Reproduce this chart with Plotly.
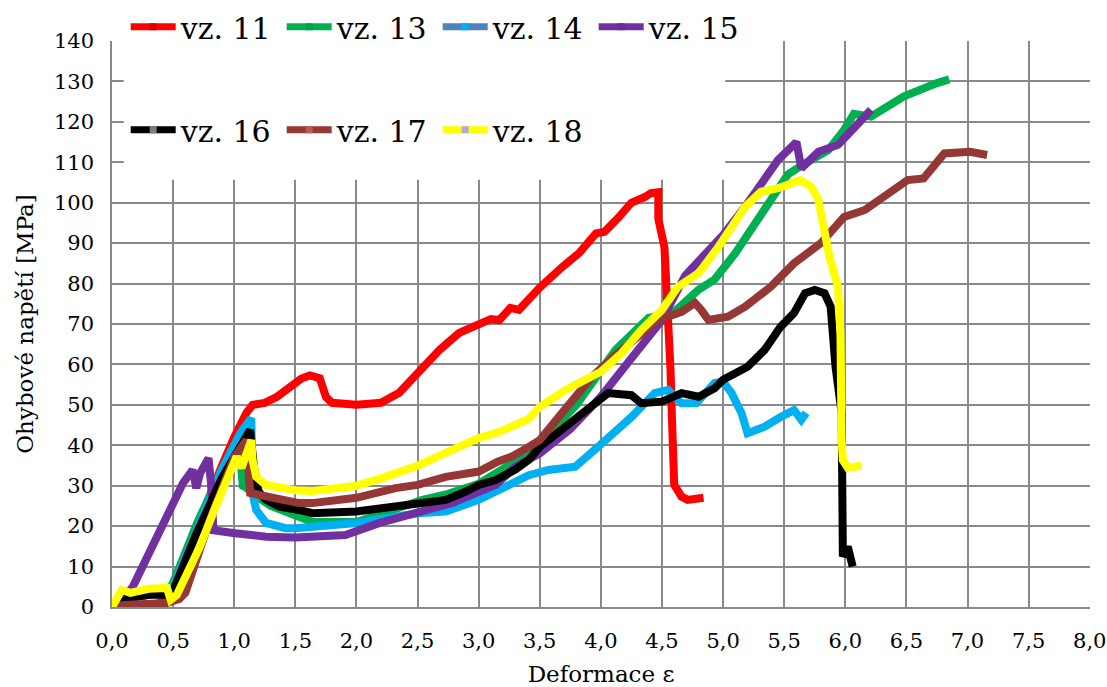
import plotly.graph_objects as go

# Flexural stress vs. deformation for specimens vz. 11 - vz. 18
x_11 = [0, 0.2, 0.35, 0.45, 0.5, 0.6, 0.7, 0.8, 0.9, 1.0, 1.05, 1.1, 1.15, 1.25, 1.35, 1.45, 1.55,
        1.62, 1.7, 1.75, 1.8, 2.0, 2.2, 2.35, 2.5, 2.68, 2.84, 3.0, 3.1, 3.17, 3.26, 3.33, 3.5,
        3.68, 3.82, 3.96, 4.03, 4.14, 4.25, 4.36, 4.41, 4.47, 4.47, 4.52, 4.55, 4.57, 4.58, 4.59,
        4.6, 4.66, 4.71, 4.84]
y_11 = [0, 0.2, 0.5, 2, 6, 13, 20, 28, 35, 42, 45.5, 48, 50, 50.5, 52, 54.5, 56.5,
        57.3, 56.6, 52, 50.5, 50, 50.5, 53, 58, 63.6, 67.8, 69.7, 71.2, 71, 74, 73.5, 79,
        84, 87.5, 92.4, 92.8, 96.2, 100, 101.4, 102.4, 102.6, 96, 89, 75, 58.6, 48, 31.4,
        30.2, 27.3, 26.5, 27]

x_13 = [0, 0.1, 0.3, 0.45, 0.5, 0.7, 0.9, 1.0, 1.04, 1.07, 1.1, 1.15, 1.3, 1.45, 1.64, 2.0, 2.3,
        2.54, 2.75, 3.0, 3.3, 3.5, 3.8, 4.12, 4.39, 4.6, 4.8, 4.93, 5.1, 5.26, 5.42, 5.53, 5.67,
        5.86, 5.99, 6.07, 6.21, 6.48, 6.75, 6.85]
y_13 = [0, 2, 3, 3.5, 6, 21, 34, 40, 41, 30, 29.5, 28, 25, 23.2, 21, 21, 24,
        26.5, 28, 30.5, 36, 40.5, 50, 63.6, 71.5, 73, 78.5, 81, 87.5, 94.5, 101.5, 107, 109.7,
        113, 118, 122, 121.3, 126.3, 129.6, 130.5]

x_14 = [0, 0.1, 0.3, 0.45, 0.5, 0.7, 0.9, 1.05, 1.14, 1.15, 1.18, 1.26, 1.42, 1.5, 2.0, 2.5,
        2.73, 3.0, 3.27, 3.41, 3.57, 3.79, 3.98, 4.25, 4.44, 4.55, 4.66, 4.78, 4.93, 5.0, 5.07,
        5.15, 5.2, 5.34, 5.47, 5.58, 5.64, 5.68]
y_14 = [0, 2, 3, 3.5, 5, 20, 34, 43, 46.7, 28, 24, 20.8, 19.5, 19.5, 20.8, 23.2,
        23.6, 26.5, 30.2, 32.6, 33.9, 34.7, 39.7, 47, 52.9, 53.7, 50.4, 50.4, 55.4, 55.7, 52.9,
        48, 43, 44.6, 47, 48.7, 46.3, 48]

x_15 = [0, 0.05, 0.17, 0.3, 0.45, 0.58, 0.66, 0.69, 0.72, 0.79, 0.81, 0.83, 0.99, 1.26, 1.5,
        1.7, 1.91, 2.19, 2.5, 2.78, 3.0, 3.14, 3.3, 3.5, 3.75, 4.0, 4.25, 4.5, 4.69, 4.85, 5.0,
        5.18, 5.45, 5.6, 5.64, 5.78, 5.94, 6.07, 6.21]
y_15 = [0, 0.5, 5, 13, 22.3, 30.6, 33.9, 29.4, 33, 36.8, 30.6, 19, 18.3, 17.4, 17.2,
        17.3, 17.8, 20.8, 23.6, 25.7, 28.5, 30.2, 34.7, 38, 44, 52, 61.5, 71, 82, 87.5, 92,
        99, 110.6, 115, 108.5, 112.6, 114.3, 118.4, 123]

x_16 = [0, 0.1, 0.3, 0.45, 0.5, 0.68, 0.9, 1.05, 1.13, 1.16, 1.2, 1.26, 1.37, 1.53, 1.64, 2.0,
        2.32, 2.5, 2.73, 2.89, 3.0, 3.14, 3.3, 3.41, 3.5, 3.71, 4.0, 4.06, 4.25, 4.33, 4.5,
        4.66, 4.8, 4.93, 5.0, 5.2, 5.34, 5.47, 5.58, 5.67, 5.75, 5.83, 5.88, 5.92, 5.97, 5.98,
        6.02, 6.06]
y_16 = [0, 2, 3, 3, 4, 17.4, 32, 40, 43.8, 35, 28.5, 26.5, 24.8, 24, 23.2, 23.6,
        24.8, 25.7, 26.5, 28.5, 30.2, 31.4, 34, 36.4, 39.6, 44.6, 51.2, 52.9, 52.4, 50.4, 50.8,
        52.9, 52, 54.1, 56.2, 59.4, 63.6, 69.3, 72.7, 77.6, 78.4, 77.6, 74.3, 59.4, 48, 12.5,
        14.9, 10]

x_17 = [0, 0.1, 0.45, 0.55, 0.6, 0.8, 1.0, 1.1, 1.13, 1.26, 1.53, 1.64, 2.0, 2.32, 2.5, 2.73,
        3.0, 3.16, 3.27, 3.41, 3.5, 3.71, 3.93, 4.12, 4.31, 4.47, 4.66, 4.77, 4.82, 4.88, 5.04,
        5.18, 5.39, 5.58, 5.8, 5.99, 6.16, 6.32, 6.51, 6.64, 6.81, 7.02, 7.16]
y_17 = [0, 0.5, 1, 2, 3.5, 21.5, 37, 41.3, 28.2, 27.3, 25.7, 25.7, 27, 29.4, 30.2, 32.2,
        33.5, 36, 37.2, 39.6, 41.3, 49, 57, 62.3, 66.9, 71, 73, 75.2, 73.5, 71, 71.8,
        74.3, 79.2, 85, 90, 96.5, 98.2, 101.5, 105.6, 106, 112.2, 112.6, 111.8]

x_18 = [0, 0.05, 0.08, 0.15, 0.3, 0.45, 0.48, 0.53, 0.72, 0.85, 0.99, 1.02, 1.06, 1.1, 1.14,
        1.15, 1.18, 1.26, 1.37, 1.5, 1.64, 2.0, 2.19, 2.5, 2.78, 3.0, 3.16, 3.27, 3.41, 3.5,
        3.71, 4.0, 4.17, 4.33, 4.5, 4.63, 4.8, 4.96, 5.18, 5.31, 5.45, 5.63, 5.72, 5.78, 5.83,
        5.87, 5.94, 5.96, 5.97, 5.98, 6.02, 6.13]
y_18 = [0, 3, 4.2, 3.5, 4.5, 4.7, 1.8, 3, 15, 25, 35.6, 37.2, 34.4, 38, 41.3,
        36.4, 32.2, 30.2, 29.4, 28.9, 28.7, 30, 31.7, 34.9, 38.8, 41.8, 43.2, 44.5, 46.5, 49.5,
        53.7, 58.2, 62.8, 68.5, 73.5, 79.2, 82.6, 89, 99, 102.7, 103.6, 105.6, 104, 100.7, 92.5,
        86.6, 79.2, 67.8, 41.3, 36.3, 34.4, 35]

names = ["vz. 11", "vz. 13", "vz. 14", "vz. 15", "vz. 16", "vz. 17", "vz. 18"]
xs = [x_11, x_13, x_14, x_15, x_16, x_17, x_18]
ys = [y_11, y_13, y_14, y_15, y_16, y_17, y_18]
line_colors = ["#ff0000", "#00b050", "#00b0f0", "#7030a0", "#000000", "#953735", "#ffff00"]
legend_line_colors = ["#ff0000", "#00b050", "#4f81bd", "#7030a0", "#000000", "#953735", "#ffff00"]
legend_marker_colors = ["#d40000", "#00a048", "#00b0f0", "#6a2c9a", "#7f7f7f", "#b85a58", "#b0a8d8"]
legend_groups = ["legend", "legend", "legend", "legend", "legend2", "legend2", "legend2"]

x_ticks = [0, 0.5, 1, 1.5, 2, 2.5, 3, 3.5, 4, 4.5, 5, 5.5, 6, 6.5, 7, 7.5, 8]
x_tick_text = ["0,0", "0,5", "1,0", "1,5", "2,0", "2,5", "3,0", "3,5", "4,0", "4,5",
               "5,0", "5,5", "6,0", "6,5", "7,0", "7,5", "8,0"]
y_ticks = [0, 10, 20, 30, 40, 50, 60, 70, 80, 90, 100, 110, 120, 130, 140]

FONT = "DejaVu Serif"
GRID = "#898989"

fig = go.Figure()

for name, x, y, c in zip(names, xs, ys, line_colors):
    fig.add_trace(go.Scatter(x=x, y=y, mode="lines", name=name, showlegend=False,
                             line=dict(color=c, width=8)))

# legend entries: line with a small marker in the middle
for name, lc, mc, lg in zip(names, legend_line_colors, legend_marker_colors, legend_groups):
    fig.add_trace(go.Scatter(x=[None], y=[None], mode="lines+markers", name=name, legend=lg,
                             line=dict(color=lc, width=7),
                             marker=dict(color=mc, size=7, symbol="square")))

# white box behind the legend rows
fig.add_shape(type="rect", xref="paper", yref="paper", x0=0.012, x1=0.627, y0=0.755, y1=1.08,
              fillcolor="white", line=dict(width=0), layer="above")

legend_common = dict(orientation="h", xanchor="left", yanchor="middle", bgcolor="rgba(0,0,0,0)",
                     font=dict(family=FONT, size=30, color="black"), itemwidth=45,
                     entrywidth=96, entrywidthmode="pixels", tracegroupgap=0)

fig.update_layout(
    width=1107, height=687,
    margin=dict(l=112, r=17, t=41, b=80, autoexpand=False),
    paper_bgcolor="white", plot_bgcolor="white",
    font=dict(family=FONT, size=21, color="black"),
    legend=dict(x=0.014, y=1.025, **legend_common),
    legend2=dict(x=0.014, y=0.843, **legend_common),
    xaxis=dict(range=[0, 8.002], tickvals=x_ticks, ticktext=x_tick_text,
               showgrid=True, gridcolor=GRID, gridwidth=1.5,
               showline=True, linecolor=GRID, linewidth=1.5,
               zeroline=False, ticks="", ticklabelstandoff=14, ticklabeloverflow="allow",
               automargin=False,
               tickfont=dict(family=FONT, size=21),
               title=dict(text="Deformace ε", font=dict(family=FONT, size=23), standoff=16)),
    yaxis=dict(range=[0, 140], tickvals=y_ticks,
               showgrid=True, gridcolor=GRID, gridwidth=1.5,
               showline=True, linecolor=GRID, linewidth=1.5,
               zeroline=False, ticks="", ticklabelstandoff=12, automargin=False,
               tickfont=dict(family=FONT, size=21),
               title=dict(text="Ohybové napětí [MPa]", font=dict(family=FONT, size=23), standoff=14)),
)

fig.write_html("out.html")
